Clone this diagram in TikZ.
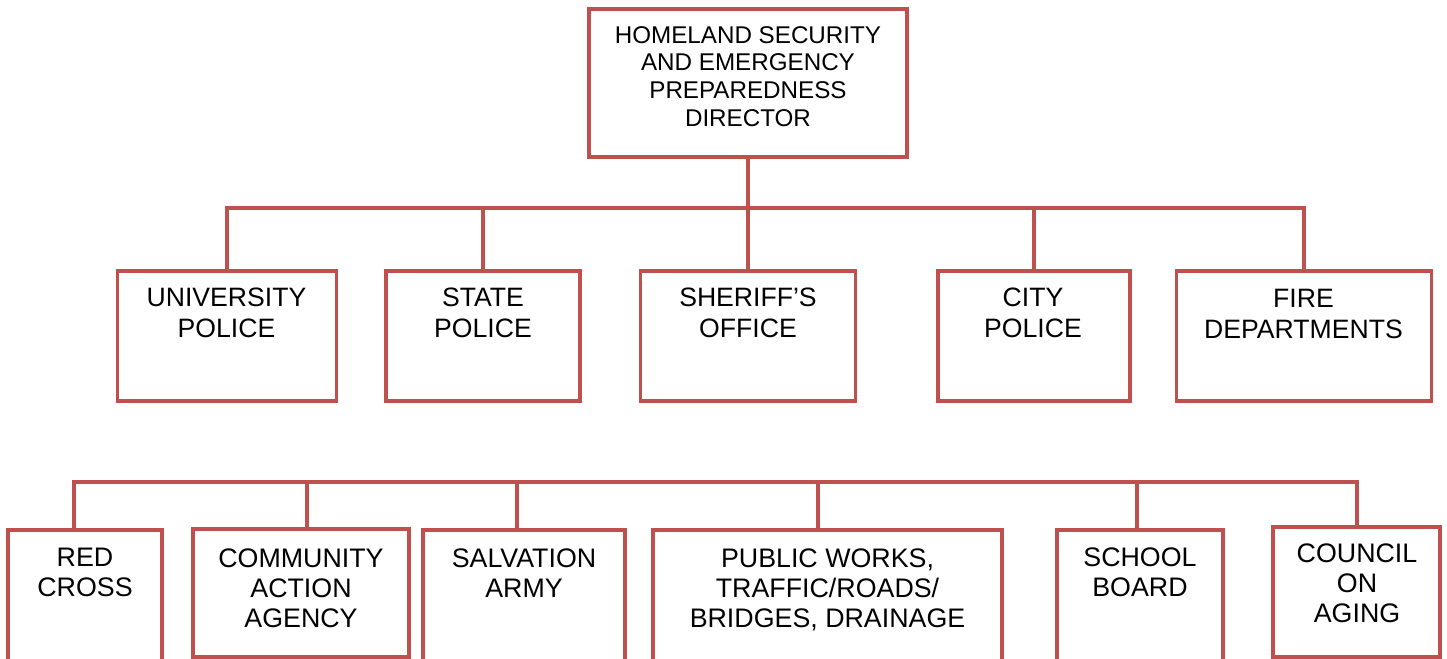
\documentclass[tikz,border=0pt]{standalone}
\usepackage{fontspec}
\setmainfont{Liberation Sans}
\definecolor{boxred}{HTML}{C0504D}
\begin{document}
\begin{tikzpicture}[x=0.5pt,y=-0.5pt,
  box/.style={draw=boxred, line width=1.6pt, rectangle, inner sep=0pt, fill=white},
  conn/.style={draw=boxred, line width=1.6pt},
  toptext/.style={anchor=north, inner sep=0pt, align=center, font=\fontsize{12.1}{13.85}\selectfont},
  midtext/.style={anchor=north, inner sep=0pt, align=center, font=\fontsize{13.3}{15.5}\selectfont},
  bottext/.style={anchor=north, inner sep=0pt, align=center, font=\fontsize{13.4}{15}\selectfont}]
\useasboundingbox (0,0) rectangle (1447,659);
\clip (0,0) rectangle (1447,659);
% top
\node[box, minimum width=159pt, minimum height=74pt] (dir) at (748,83) {};
\node[toptext] (dirt) at (748,25.7) {HOMELAND SECURITY\\AND EMERGENCY\\PREPAREDNESS\\DIRECTOR};
% middle row
\node[box, minimum width=109.5pt, minimum height=65pt] (up) at (227,336) {};
\node[box, minimum width=97pt, minimum height=65pt] (sp) at (483,336) {};
\node[box, minimum width=107.5pt, minimum height=65pt] (so) at (748,336) {};
\node[box, minimum width=96pt, minimum height=65pt] (cp) at (1034,336) {};
\node[box, minimum width=127.5pt, minimum height=65pt] (fd) at (1304,336) {};
\node[midtext] (upt) at (226.5,288) {UNIVERSITY\\POLICE};
\node[midtext] (spt) at (483,288) {STATE\\POLICE};
\node[midtext] (sot) at (748,288) {SHERIFF’S\\OFFICE};
\node[midtext] (cpt) at (1033,288) {CITY\\POLICE};
\node[midtext] (fdt) at (1303.5,289) {FIRE\\DEPARTMENTS};
% connectors top
\coordinate (j1) at (748,208);
\draw[conn] (dir.south) -- (j1);
\draw[conn] (up.north) |- (j1);
\draw[conn] (sp.north) |- (j1);
\draw[conn] (so.north) -- (j1);
\draw[conn] (cp.north) |- (j1);
\draw[conn] (fd.north) |- (j1);
% bottom row
\node[box, minimum width=77pt, minimum height=85pt] (rc) at (85,615) {};
\node[box, minimum width=108pt, minimum height=64pt] (caa) at (301,593) {};
\node[box, minimum width=101pt, minimum height=85pt] (sa) at (524,615) {};
\node[box, minimum width=174.5pt, minimum height=85pt] (pw) at (827.5,615) {};
\node[box, minimum width=83pt, minimum height=85pt] (sb) at (1140,615) {};
\node[box, minimum width=83.5pt, minimum height=65pt] (coa) at (1356.5,592) {};
\node[bottext] (rct) at (85,548) {RED\\CROSS};
\node[bottext] (caat) at (301,548) {COMMUNITY\\ACTION\\AGENCY};
\node[bottext] (sat) at (524,548) {SALVATION\\ARMY};
\node[bottext] (pwt) at (827.5,548) {PUBLIC WORKS,\\TRAFFIC/ROADS/\\BRIDGES, DRAINAGE};
\node[bottext] (sbt) at (1140,547) {SCHOOL\\BOARD};
\node[bottext] (coat) at (1357,543) {COUNCIL\\ON\\AGING};
% connectors bottom
\coordinate (rcT) at (74,530);
\coordinate (caaT) at (307,529);
\coordinate (saT) at (517,530);
\coordinate (pwT) at (818,530);
\coordinate (sbT) at (1137,529);
\coordinate (coaT) at (1357,527);
\coordinate (bL) at (74,482);
\coordinate (bR) at (1357,482);
\draw[conn] (rcT) -- (bL) -- (bR) -- (coaT);
\draw[conn] (caaT) -- (caaT |- bL);
\draw[conn] (saT) -- (saT |- bL);
\draw[conn] (pwT) -- (pwT |- bL);
\draw[conn] (sbT) -- (sbT |- bL);
\end{tikzpicture}
\end{document}
